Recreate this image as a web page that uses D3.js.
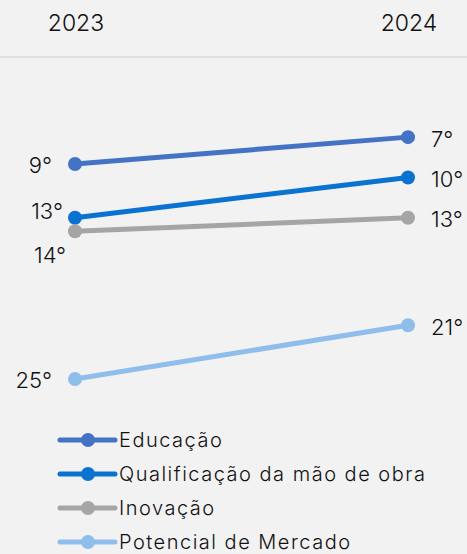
<!DOCTYPE html>
<html>
<head>
<meta charset="utf-8">
<script src="https://cdn.jsdelivr.net/npm/d3@7"></script>
<style>
  html, body { margin: 0; padding: 0; background: #f2f2f2; }
  svg { display: block; font-family: Inter, "Noto Sans", sans-serif; font-weight: 300; }
</style>
</head>
<body>
<div id="chart"></div>
<script>
// data
const years = ["2023", "2024"];
const seriesNames = ["Educação", "Qualificação da mão de obra", "Inovação", "Potencial de Mercado"];
const educacao = [9, 7];
const qualificacao = [13, 10];
const inovacao = [14, 13];
const potencial = [25, 21];

const seriesValues = [educacao, qualificacao, inovacao, potencial];
const colors = ["#4472c4", "#0a72d1", "#a5a5a5", "#8fbdec"];
// where each 2023 label sits relative to its point (2024 labels always go right)
const leftPlacement = ["left", "above", "below", "left"];

const width = 467, height = 554;

const svg = d3.select("#chart").append("svg")
  .attr("width", width)
  .attr("height", height);

svg.append("rect").attr("width", width).attr("height", height).attr("fill", "#f2f2f2");

const x = d3.scalePoint()
  .domain(years)
  .range([75, 408]);

const y = d3.scaleLinear()
  .domain([1, 25])
  .range([56.5, 379]);

// year header
svg.selectAll("text.year")
  .data(years)
  .enter().append("text")
  .attr("class", "year")
  .attr("x", d => x(d) + 1)
  .attr("y", 31)
  .attr("text-anchor", "middle")
  .attr("font-size", "23px")
  .attr("fill", "#111")
  .text(d => d);

svg.append("line")
  .attr("x1", 0).attr("x2", width)
  .attr("y1", 57).attr("y2", 57)
  .attr("stroke", "#d9d9d9")
  .attr("stroke-width", 1.5);

const line = d3.line()
  .x((d, i) => x(years[i]))
  .y(d => y(d));

const series = svg.selectAll("g.series")
  .data(seriesValues)
  .enter().append("g")
  .attr("class", "series");

series.append("path")
  .attr("d", d => line(d))
  .attr("fill", "none")
  .attr("stroke", (d, i) => colors[i])
  .attr("stroke-width", 5);

series.each(function (vals, si) {
  const g = d3.select(this);
  g.selectAll("circle")
    .data(vals)
    .enter().append("circle")
    .attr("cx", (d, i) => x(years[i]))
    .attr("cy", d => y(d))
    .attr("r", 7)
    .attr("fill", colors[si]);

  g.selectAll("text")
    .data(vals)
    .enter().append("text")
    .attr("font-size", "22px")
    .attr("fill", "#111")
    .attr("dy", "0.35em")
    .each(function (d, i) {
      const t = d3.select(this);
      const px = x(years[i]), py = y(d);
      if (i === 1) {
        t.attr("x", px + 23).attr("y", py + 2).attr("text-anchor", "start");
      } else {
        const p = leftPlacement[si];
        if (p === "left") t.attr("x", px - 23).attr("y", py + 1).attr("text-anchor", "end");
        else if (p === "above") t.attr("x", px - 12).attr("y", py - 6).attr("text-anchor", "end");
        else t.attr("x", px - 9).attr("y", py + 24).attr("text-anchor", "end");
      }
    })
    .text(d => d + "°");
});

// legend
const legend = svg.selectAll("g.legend")
  .data(seriesNames)
  .enter().append("g")
  .attr("class", "legend")
  .attr("transform", (d, i) => `translate(60, ${440 + i * 34})`);

legend.append("line")
  .attr("x1", 0).attr("x2", 55)
  .attr("stroke", (d, i) => colors[i])
  .attr("stroke-width", 5)
  .attr("stroke-linecap", "round");

legend.append("circle")
  .attr("cx", 28).attr("r", 7)
  .attr("fill", (d, i) => colors[i]);

legend.append("text")
  .attr("x", 59)
  .attr("dy", "0.35em")
  .attr("font-size", "20px")
  .attr("letter-spacing", "1.5px")
  .attr("fill", "#111")
  .text(d => d);
</script>
</body>
</html>
